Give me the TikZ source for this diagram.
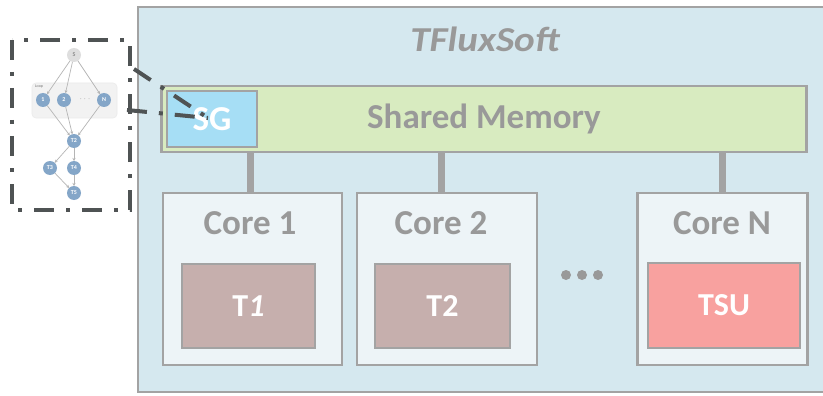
\documentclass[tikz,border=0pt]{standalone}
\usepackage{fontspec}
\setmainfont{Carlito}
\usetikzlibrary{arrows.meta}
\definecolor{boxline}{HTML}{A3A3A3}
\definecolor{sysfill}{HTML}{D5E8EF}
\definecolor{memfill}{HTML}{D8EBC0}
\definecolor{sgfill}{HTML}{A6DEF5}
\definecolor{corefill}{HTML}{EDF4F7}
\definecolor{taskfill}{HTML}{C6AFAD}
\definecolor{tsufill}{HTML}{F8A19F}
\definecolor{labelgray}{HTML}{999999}
\definecolor{dagnode}{HTML}{84A6C8}
\definecolor{dagedge}{HTML}{B5B5B5}
\definecolor{zoomline}{HTML}{4F5354}
\tikzset{
  every node/.style={inner sep=0pt, outer sep=0pt},
  blockbox/.style={draw=boxline, line width=2.6pt, rectangle},
  corebox/.style={blockbox, fill=corefill},
  taskbox/.style={blockbox, fill=taskfill, font=\bfseries\fontsize{32}{34}\selectfont, text=white},
  bus/.style={draw=boxline, line width=7pt},
  biglabel/.style={font=\bfseries\fontsize{35}{37}\selectfont, text=labelgray},
  dagcirc/.style={circle, fill=dagnode, minimum size=14pt, font=\bfseries\fontsize{6}{6}\selectfont, text=white},
  dagarrow/.style={draw=dagedge, line width=0.7pt, -{Stealth[length=3pt,width=3pt]}},
  zoomdash/.style={draw=zoomline, line width=4pt, dash pattern=on 20pt off 12pt on 4pt off 12pt},
  gapdot/.style={circle, fill=labelgray, minimum size=10pt},
}
\begin{document}
\begin{tikzpicture}[x=1pt, y=-1pt]
\useasboundingbox (0,0) rectangle (823,396);
\fill[white] (0,0) rectangle (823,396);

% system frame
\path[blockbox, fill=sysfill] (138,7) rectangle (840,392);
\node[font=\bfseries\itshape\fontsize{35}{37}\selectfont, text=labelgray, xscale=1.12, transform shape] (title) at (485,39) {TFluxSoft};

% shared memory with the SG region
\node[blockbox, fill=memfill, minimum width=645pt, minimum height=66pt, anchor=north west] (mem) at (161.5,86) {};
\node[biglabel] (memlabel) at (484,119) {Shared Memory};
\node[blockbox, fill=sgfill, minimum width=90pt, minimum height=56pt, anchor=north west,
      font=\bfseries\fontsize{35}{37}\selectfont, text=white] (sg) at (167,91) {SG};

% cores
\node[corebox, minimum width=179pt, minimum height=172pt, anchor=north west] (c1) at (163,193) {};
\node[corebox, minimum width=180pt, minimum height=172pt, anchor=north west] (c2) at (357,193) {};
\node[corebox, minimum width=170pt, minimum height=172pt, anchor=north west] (cn) at (637.5,193) {};
\node[biglabel] (c1l) at (250,223) {Core 1};
\node[biglabel] (c2l) at (441,223) {Core 2};
\node[biglabel] (cnl) at (722,223) {Core N};

\node[taskbox, minimum width=133pt, minimum height=84pt, anchor=north west] (t1) at (182,264) {T\textit{1}};
\node[taskbox, minimum width=135pt, minimum height=84pt, anchor=north west] (t2) at (375,264) {T2};
\node[taskbox, fill=tsufill, minimum width=152pt, minimum height=85pt, anchor=north west] (tsu) at (648,263) {TSU};

% further cores
\node[gapdot] (g1) at (566,275) {};
\node[gapdot] (g2) at (582,275) {};
\node[gapdot] (g3) at (598,275) {};

% buses from memory to cores
\draw[bus] (mem.south -| c1l) -- (c1.north -| c1l);
\draw[bus] (mem.south -| c2l) -- (c2.north -| c2l);
\draw[bus] (mem.south -| cnl) -- (cn.north -| cnl);

% task graph
\node[draw=black!8, fill=black!5, rounded corners=4pt, line width=0.6pt,
      minimum width=85pt, minimum height=35pt, anchor=north west] (loop) at (32,83) {};
\node[font=\fontsize{4}{4}\selectfont, text=black!55, anchor=north west] (looplabel) at (35,85) {Loop};
\node[circle, fill=black!13, minimum size=14pt, font=\bfseries\fontsize{6}{6}\selectfont, text=black!45] (s) at (74,55) {S};
\node[dagcirc] (n1) at (43,100) {1};
\node[dagcirc] (n2) at (64,100) {2};
\node[font=\fontsize{9}{9}\selectfont, text=black!40] (ndots) at (85,99) {$\cdots$};
\node[dagcirc] (nn) at (104,100) {N};
\node[dagcirc] (d2) at (74,141) {T2};
\node[dagcirc] (d3) at (50,168) {T3};
\node[dagcirc] (d4) at (74,168) {T4};
\node[dagcirc] (d5) at (74,193) {T5};
\draw[dagarrow] (s) -- (n1);
\draw[dagarrow] (s) -- (n2);
\draw[dagarrow] (s) -- (nn);
\draw[dagarrow] (n1) -- (d2);
\draw[dagarrow] (n2) -- (d2);
\draw[dagarrow] (nn) -- (d2);
\draw[dagarrow] (d2) -- (d3);
\draw[dagarrow] (d2) -- (d4);
\draw[dagarrow] (d3) -- (d5);
\draw[dagarrow] (d4) -- (d5);

% zoom frame around the task graph and its lines to SG
\coordinate (fa) at (12,40);
\coordinate (fb) at (130,210);
\draw[zoomdash] (fa) rectangle (fb);
\coordinate (za) at (134,69);
\coordinate (zb) at (127,110);
\coordinate (zt) at (208,118);
\draw[zoomdash] (za) -- (zt);
\draw[zoomdash] (zb) -- (zt);
\end{tikzpicture}
\end{document}
